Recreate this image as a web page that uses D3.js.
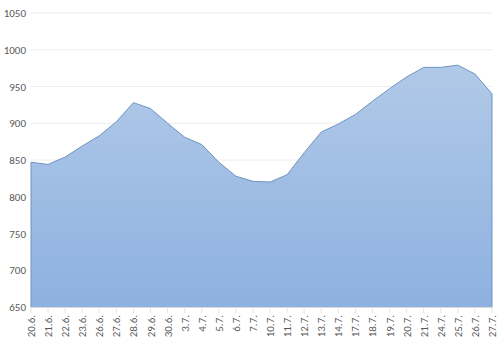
<!DOCTYPE html>
<html><head><meta charset="utf-8">
<script src="https://cdn.jsdelivr.net/npm/d3@7"></script>
<style>body{margin:0;background:#fff}svg{display:block}</style>
</head><body>
<script>
const categories = ["20.6.","21.6.","22.6.","23.6.","26.6.","27.6.","28.6.","29.6.","30.6.","3.7.","4.7.","5.7.","6.7.","7.7.","10.7.","11.7.","12.7.","13.7.","14.7.","17.7.","18.7.","19.7.","20.7.","21.7.","24.7.","25.7.","26.7.","27.7."];
const values = [847,844,854,869,883,902,928,920,900,881,871,847,828,821,820,830,860,888,899,912,930,947,963,976,976,979,967,940];
const yTicks = [650,700,750,800,850,900,950,1000,1050];

const W = 500, H = 350;
const m = {left: 31, right: 8, top: 13, bottom: 43};
const svg = d3.select("body").append("svg").attr("width", W).attr("height", H);

const x = d3.scalePoint().domain(categories).range([m.left, W - m.right]);
const y = d3.scaleLinear().domain([650, 1050]).range([H - m.bottom, m.top]);

const defs = svg.append("defs");
const grad = defs.append("linearGradient").attr("id","g").attr("x1",0).attr("y1",0).attr("x2",0).attr("y2",1);
grad.append("stop").attr("offset","0%").attr("stop-color","#b1c9e8");
grad.append("stop").attr("offset","100%").attr("stop-color","#8db1e0");

// gridlines
svg.append("g").selectAll("line").data(yTicks.slice(1)).join("line")
  .attr("x1", m.left).attr("x2", W - m.right)
  .attr("y1", d => y(d)).attr("y2", d => y(d))
  .attr("stroke", "#ececec").attr("stroke-width", 1);

// y labels
svg.append("g").selectAll("text").data(yTicks).join("text")
  .attr("x", 26).attr("y", d => y(d) + 4)
  .attr("text-anchor", "end")
  .attr("font-family", "Calibri, Carlito, 'Liberation Sans', sans-serif")
  .attr("font-size", 11).attr("fill", "#595959")
  .text(d => d);

// area
const area = d3.area().x(d => x(d.c)).y0(y(650)).y1(d => y(d.v));
const line = d3.line().x(d => x(d.c)).y(d => y(d.v));
const data = categories.map((c, i) => ({c, v: values[i]}));
svg.append("path").datum(data).attr("d", area).attr("fill", "url(#g)");
svg.append("path").datum(data).attr("d", line).attr("fill","none").attr("stroke","#6f93c0").attr("stroke-width",1);
// edges
svg.append("line").attr("x1", x(categories[0])).attr("x2", x(categories[0]))
  .attr("y1", y(values[0])).attr("y2", y(650)).attr("stroke","#6f93c0");
svg.append("line").attr("x1", x(categories[categories.length-1])).attr("x2", x(categories[categories.length-1]))
  .attr("y1", y(values[values.length-1])).attr("y2", y(650)).attr("stroke","#6f93c0");

// x axis line & ticks
svg.append("line").attr("x1", m.left).attr("x2", W - m.right).attr("y1", y(650)+0.5).attr("y2", y(650)+0.5).attr("stroke","#d9d9d9");
svg.append("g").selectAll("line").data(categories).join("line")
  .attr("x1", d => x(d)).attr("x2", d => x(d))
  .attr("y1", y(650)).attr("y2", y(650) + 6)
  .attr("stroke", "#e4e4e4");

// x labels
svg.append("g").selectAll("text").data(categories).join("text")
  .attr("transform", d => `translate(${x(d) + 4},${y(650) + 8}) rotate(-90)`)
  .attr("text-anchor", "end")
  .attr("font-family", "Calibri, Carlito, 'Liberation Sans', sans-serif")
  .attr("font-size", 11).attr("fill", "#595959")
  .text(d => d);
</script>
</body></html>
